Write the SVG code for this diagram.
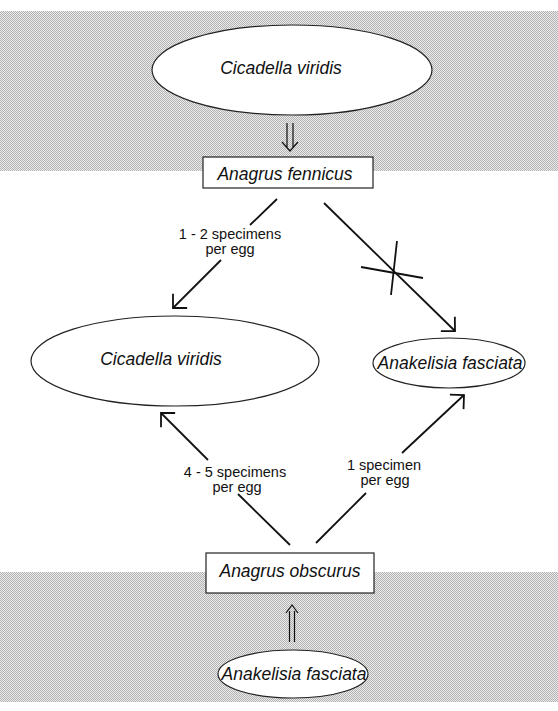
<svg xmlns="http://www.w3.org/2000/svg" width="558" height="711" viewBox="0 0 558 711">
<defs>
<pattern id="dither" x="0" y="0" width="2" height="2" patternUnits="userSpaceOnUse">
<rect x="0" y="0" width="2" height="2" fill="#ececec"/>
<rect x="0" y="0" width="1" height="1" fill="#b2b2b2"/>
<rect x="1" y="1" width="1" height="1" fill="#b2b2b2"/>
</pattern>
<marker id="arr" viewBox="-12 -12 14 24" refX="0" refY="0" markerWidth="14" markerHeight="24" orient="auto" markerUnits="userSpaceOnUse">
<path d="M-10,-10 L0,0 L-10,10" fill="none" stroke="#111" stroke-width="1.8"/>
</marker>
</defs>
<style>
.node { fill: #fff; stroke: #222; stroke-width: 1.2; }
.name { font-family: "Liberation Sans", Arial, sans-serif; font-style: italic; font-size: 17.5px; fill: #111; text-anchor: middle; }
.lbl { font-family: "Liberation Sans", Arial, sans-serif; font-size: 14.5px; fill: #111; text-anchor: middle; }
.conn { stroke: #111; stroke-width: 1.8; fill: none; }
.dbl { stroke: #111; stroke-width: 1.2; fill: none; }
</style>
<rect id="band-top" x="0" y="11" width="558" height="160" fill="url(#dither)"/>
<rect id="band-bottom" x="0" y="572" width="558" height="130" fill="url(#dither)"/>
<g id="connectors">
<path class="dbl" d="M287,123 V147 M293,123 V147 M282,142 L290,151 L298,142"/>
<path class="dbl" d="M289.5,611 V642 M294.5,611 V642 M286,613 L292,605 L298,613"/>
<line class="conn" x1="277" y1="199" x2="250" y2="225"/>
<line class="conn" x1="221" y1="260" x2="173" y2="308" marker-end="url(#arr)"/>
<line class="conn" x1="324" y1="203" x2="455" y2="331" marker-end="url(#arr)"/>
<line class="conn" x1="361" y1="267" x2="423" y2="278" stroke-width="1.4"/>
<line class="conn" x1="397" y1="241" x2="391" y2="295" stroke-width="1.4"/>
<line class="conn" x1="290" y1="545" x2="238" y2="494"/>
<line class="conn" x1="208" y1="460" x2="161" y2="413" marker-end="url(#arr)"/>
<line class="conn" x1="316" y1="543" x2="366" y2="493"/>
<line class="conn" x1="402" y1="453" x2="464" y2="395" marker-end="url(#arr)"/>
<text class="lbl" x="230" y="239">1 - 2 specimens</text>
<text class="lbl" x="230" y="254">per egg</text>
<text class="lbl" x="235" y="477">4 - 5 specimens</text>
<text class="lbl" x="237" y="492">per egg</text>
<text class="lbl" x="384" y="470">1 specimen</text>
<text class="lbl" x="385" y="485">per egg</text>
</g>
<g id="node-cicadella-top">
<ellipse class="node" cx="292" cy="70" rx="140" ry="45"/>
<text class="name" x="281" y="74">Cicadella viridis</text>
</g>
<g id="node-anagrus-fennicus">
<rect class="node" x="203" y="157" width="170" height="31"/>
<text class="name" x="285" y="180">Anagrus fennicus</text>
</g>
<g id="node-cicadella-mid">
<ellipse class="node" cx="175" cy="361" rx="144" ry="45"/>
<text class="name" x="161" y="365">Cicadella viridis</text>
</g>
<g id="node-anakelisia-mid">
<ellipse class="node" cx="449" cy="363" rx="76" ry="25"/>
<text class="name" x="450" y="369">Anakelisia fasciata</text>
</g>
<g id="node-anagrus-obscurus">
<rect class="node" x="206" y="553" width="168" height="40"/>
<text class="name" x="290" y="577">Anagrus obscurus</text>
</g>
<g id="node-anakelisia-bottom">
<ellipse class="node" cx="293" cy="674" rx="75" ry="24"/>
<text class="name" x="294" y="680">Anakelisia fasciata</text>
</g>
</svg>
